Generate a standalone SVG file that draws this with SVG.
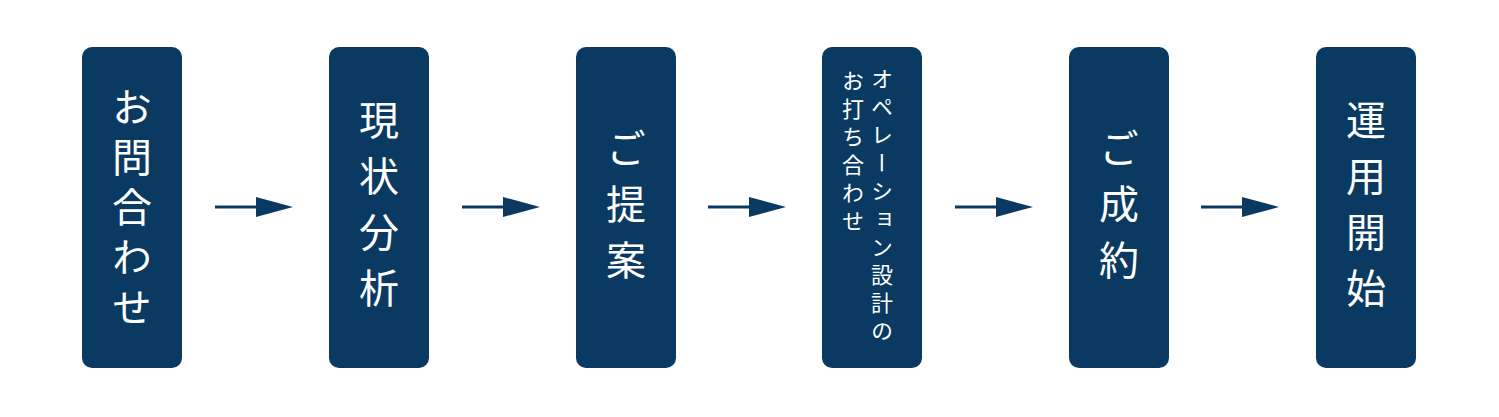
<svg xmlns="http://www.w3.org/2000/svg" width="1499" height="417" viewBox="0 0 1499 417">
<style>
.b{fill:#0a3a62}
.t{fill:#fff;font-family:"Noto Sans CJK JP",sans-serif;font-size:40px;writing-mode:vertical-rl;text-anchor:middle;letter-spacing:10px}
.s{fill:#fff;font-family:"Noto Sans CJK JP",sans-serif;font-size:22px;writing-mode:vertical-rl;letter-spacing:6px}
.c{stroke:#0a3a62;stroke-width:3;fill:none}
</style>
<defs><marker id="a" markerWidth="12" markerHeight="10" refX="11" refY="5" orient="auto" markerUnits="userSpaceOnUse" viewBox="0 0 12 10"><path d="M0,0L12,5L0,10z" fill="#0a3a62"/></marker></defs>
<rect width="1499" height="417" fill="#fff"/>
<g id="n1"><rect class="b" x="82" y="47" width="100" height="321" rx="10"/><text class="t" x="132" y="212">お問合わせ</text></g>
<g id="n2"><rect class="b" x="329" y="47" width="100" height="321" rx="10"/><text class="t" x="379" y="212" style="letter-spacing:16px">現状分析</text></g>
<g id="n3"><rect class="b" x="576" y="47" width="100" height="321" rx="10"/><text class="t" x="626" y="212" style="letter-spacing:16px">ご提案</text></g>
<g id="n4"><rect class="b" x="822" y="47" width="100" height="321" rx="10"/><text class="s" x="882" y="68">オペレーション設計の</text><text class="s" x="853" y="70">お打ち合わせ</text></g>
<g id="n5"><rect class="b" x="1069" y="47" width="100" height="321" rx="10"/><text class="t" x="1119" y="212" style="letter-spacing:16px">ご成約</text></g>
<g id="n6"><rect class="b" x="1316" y="47" width="100" height="321" rx="10"/><text class="t" x="1366" y="212" style="letter-spacing:16px">運用開始</text></g>
<g id="connectors">
<path class="c" d="M215,207H258" /><path d="M256,197L293,207L256,217z" fill="#0a3a62"/>
<path class="c" d="M462,207H505" /><path d="M503,197L540,207L503,217z" fill="#0a3a62"/>
<path class="c" d="M708,207H751" /><path d="M749,197L786,207L749,217z" fill="#0a3a62"/>
<path class="c" d="M955,207H998" /><path d="M996,197L1033,207L996,217z" fill="#0a3a62"/>
<path class="c" d="M1201,207H1244" /><path d="M1242,197L1279,207L1242,217z" fill="#0a3a62"/>
</g>
</svg>
